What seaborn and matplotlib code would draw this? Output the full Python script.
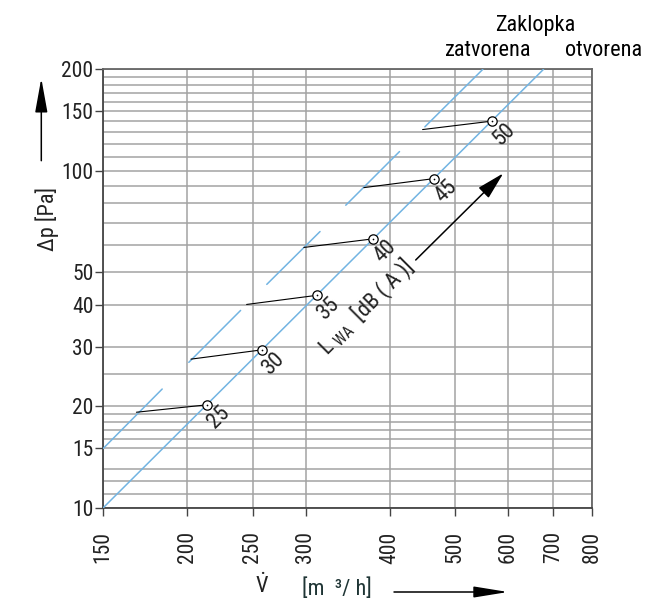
import matplotlib
matplotlib.use('Agg')
import matplotlib.pyplot as plt
import matplotlib.ticker as mticker
from matplotlib import font_manager as fm
import seaborn as sns
import pandas as pd

# Kennlinie "otvorena" (Zaklopka offen) - durchgehende Linie
v_otvorena = [150, 677]
dp_otvorena = [10, 200]

# Kennlinie "zatvorena" - gestrichelt, Strichanfang/-ende
zat_v_start = [150, 201, 262.5, 344, 451]
zat_v_end = [183.5, 240, 315, 413.5, 550]
zat_dp_start = [15, 27, 46, 79, 135]
zat_dp_end = [22.5, 38.5, 66, 114, 200]

# Schallleistungspegel-Punkte auf der offenen Kennlinie
lwa = [25, 30, 35, 40, 45, 50]
v_mark = [214, 258, 312, 378, 466, 568]
dp_mark = [20.2, 29.4, 42.7, 62.8, 94.8, 140.4]

# Verbindung zur geschlossenen Kennlinie
v_conn = [168, 202.5, 245, 298, 366, 447.5]
dp_conn = [19.2, 27.6, 40.1, 59.2, 89.1, 132.5]

x_ticks = [150, 200, 250, 300, 400, 500, 600, 700, 800]
y_ticks = [10, 15, 20, 30, 40, 50, 100, 150, 200]
y_grid = [10, 11, 12, 13, 15, 16, 17, 18, 19, 20, 25, 30, 40, 50, 60, 70, 80,
          90, 100, 110, 120, 130, 140, 150, 160, 170, 180, 190, 200]

sns.set_theme(style='white')

# schmale Schrift suchen (Original ist eine Condensed-Schrift)
fonts = fm.fontManager.ttflist
names = {f.name for f in fonts}
stretch = 'normal'
if 'Liberation Sans Narrow' in names:
    family = 'Liberation Sans Narrow'
elif 'Roboto Condensed' in names:
    family = 'Roboto Condensed'
elif any(f.name == 'DejaVu Sans' and 'condensed' in str(f.stretch) for f in fonts):
    family = 'DejaVu Sans'
    stretch = 'condensed'
elif 'DejaVu Sans Condensed' in names:
    family = 'DejaVu Sans Condensed'
else:
    family = 'Roboto'
plt.rcParams['font.family'] = [family, 'DejaVu Sans']
plt.rcParams['font.stretch'] = stretch
plt.rcParams['mathtext.fontset'] = 'custom'
plt.rcParams['mathtext.rm'] = family
plt.rcParams['mathtext.it'] = family

BLUE = '#72b4e2'
GRID = '#a3a3a3'
TXT = '#222222'
FS = 16
W, H = 646, 601

fig = plt.figure(figsize=(W / 100, H / 100), dpi=100)
ax = fig.add_axes([103.3 / W, 1 - 507.7 / H, (592.3 - 103.3) / W, (507.7 - 69.3) / H])

# Linien
sns.lineplot(x=v_otvorena, y=dp_otvorena, ax=ax, color=BLUE, lw=1.1, zorder=3)

seg_rows = []
for i in range(len(zat_v_start)):
    seg_rows.append({'seg': i, 'V': zat_v_start[i], 'dp': zat_dp_start[i]})
    seg_rows.append({'seg': i, 'V': zat_v_end[i], 'dp': zat_dp_end[i]})
df_zat = pd.DataFrame(seg_rows)
sns.lineplot(data=df_zat, x='V', y='dp', units='seg', estimator=None, sort=False,
             ax=ax, color=BLUE, lw=1.1, zorder=3)

conn_rows = []
for i in range(len(lwa)):
    conn_rows.append({'seg': i, 'V': v_conn[i], 'dp': dp_conn[i]})
    conn_rows.append({'seg': i, 'V': v_mark[i], 'dp': dp_mark[i]})
df_conn = pd.DataFrame(conn_rows)
sns.lineplot(data=df_conn, x='V', y='dp', units='seg', estimator=None, sort=False,
             ax=ax, color='black', lw=0.8, zorder=4)

sns.scatterplot(x=v_mark, y=dp_mark, ax=ax, s=45, facecolor='white',
                edgecolor='black', linewidth=0.9, zorder=5)
sns.scatterplot(x=v_mark, y=dp_mark, ax=ax, s=1.5, color='black', linewidth=0, zorder=6)

for v, dp, l in zip(v_mark, dp_mark, lwa):
    ax.annotate(str(l), (v, dp), xytext=(12, -13), textcoords='offset pixels',
                ha='center', va='center', rotation=45, fontsize=FS, color=TXT)

# Achsen
ax.set_xscale('log')
ax.set_yscale('log')
ax.set_xlim(150, 800)
ax.set_ylim(10, 200)
ax.xaxis.set_major_locator(mticker.FixedLocator(x_ticks))
ax.xaxis.set_major_formatter(mticker.FixedFormatter([str(t) for t in x_ticks]))
ax.xaxis.set_minor_locator(mticker.NullLocator())
ax.yaxis.set_major_locator(mticker.FixedLocator(y_ticks))
ax.yaxis.set_major_formatter(mticker.FixedFormatter([str(t) for t in y_ticks]))
ax.yaxis.set_minor_locator(mticker.FixedLocator(y_grid))
ax.yaxis.set_minor_formatter(mticker.NullFormatter())

ax.grid(True, which='both', color=GRID, lw=1.1)
ax.set_axisbelow(True)
ax.tick_params(axis='y', which='major', length=6, width=1, color='#444444', pad=1,
               labelsize=15.5, labelcolor=TXT, left=True)
ax.tick_params(axis='y', which='minor', length=0)
ax.tick_params(axis='x', which='major', length=6, width=1, color='#444444', pad=11,
               labelsize=15.5, labelcolor=TXT, labelrotation=90, bottom=True)
for side in ['left', 'bottom']:
    ax.spines[side].set_color('#444444')
    ax.spines[side].set_linewidth(1.3)
for side in ['top', 'right']:
    ax.spines[side].set_color('#666666')
    ax.spines[side].set_linewidth(1.3)
ax.set_xlabel('')
ax.set_ylabel('')

# Beschriftungen
def fx(x):
    return x / W

def fy(y):
    return 1 - y / H

fig.text(fx(47), fy(219), 'Δp [Pa]', rotation=90, ha='center', va='center',
         fontsize=FS, color=TXT)
fig.text(fx(262), fy(586), r'$\dot{\mathrm{V}}$', ha='center', va='center',
         fontsize=FS, color=TXT)
fig.text(fx(337), fy(589), '[m  ³/ h]', ha='center', va='center', fontsize=FS,
         color='#1f3535')

fig.text(fx(535), fy(26), 'Zaklopka', ha='center', va='center', fontsize=FS, color='black')
fig.text(fx(488.5), fy(51), 'zatvorena', ha='center', va='center', fontsize=FS, color='black')
fig.text(fx(603.5), fy(51), 'otvorena', ha='center', va='center', fontsize=FS, color='black')

fig.text(fx(366), fy(307), r'L $_{\mathrm{WA}}$  [dB ( A )]', rotation=45,
         ha='center', va='center', rotation_mode='anchor', fontsize=FS, color=TXT)

def arrow(tail, tip, hl, hw):
    ax.annotate('', xy=(tip[0], H - tip[1]), xytext=(tail[0], H - tail[1]),
                xycoords='figure pixels', textcoords='figure pixels',
                arrowprops=dict(arrowstyle='-|>,head_length=%.2f,head_width=%.2f' % (hl, hw),
                                color='black', lw=1.1, mutation_scale=20,
                                shrinkA=0, shrinkB=0),
                annotation_clip=False)

arrow((41.3, 160.7), (41.3, 78.3), 1.05, 0.19)
arrow((394, 592), (508, 592), 1.05, 0.17)
arrow((415.7, 260), (503.3, 173.3), 0.86, 0.22)

fig.savefig('out.png', dpi=100)
plt.close(fig)
